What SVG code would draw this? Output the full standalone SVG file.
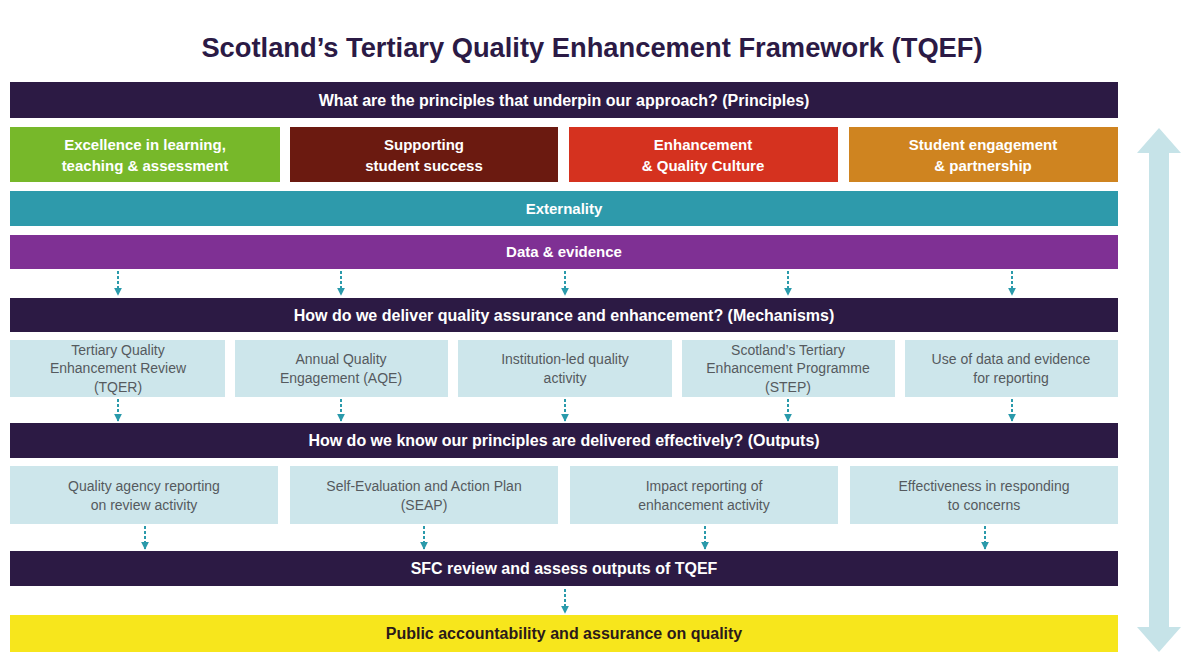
<svg xmlns="http://www.w3.org/2000/svg" width="1190" height="657" viewBox="0 0 1190 657">
  <style>
    .title { font-family: "Liberation Sans", Arial, sans-serif; font-weight: bold; font-size: 27.3px; fill: #2b1a45; }
    .bar { fill: #2c1a44; }
    .hd { font-family: "Liberation Sans", Arial, sans-serif; font-weight: bold; font-size: 16px; fill: #ffffff; text-anchor: middle; }
    .pr { font-family: "Liberation Sans", Arial, sans-serif; font-weight: bold; font-size: 15px; fill: #ffffff; text-anchor: middle; }
    .hdk { font-family: "Liberation Sans", Arial, sans-serif; font-weight: bold; font-size: 16px; fill: #2b1a1a; text-anchor: middle; }
    .box { fill: #cde6eb; }
    .bt { font-family: "Liberation Sans", Arial, sans-serif; font-size: 14px; fill: #555a5e; text-anchor: middle; }
    .con { stroke: #2a9aab; stroke-width: 2; stroke-dasharray: 3 2; fill: none; }
  </style>
  <defs>
    <marker id="ah" viewBox="0 0 10 10" refX="9" refY="5" markerWidth="8" markerHeight="10" markerUnits="userSpaceOnUse" orient="auto">
      <path d="M0,0 L10,5 L0,10 Z" fill="#2a9aab"/>
    </marker>
  </defs>
  <rect width="1190" height="657" fill="#ffffff"/>

  <text class="title" x="592" y="57" text-anchor="middle">Scotland’s Tertiary Quality Enhancement Framework (TQEF)</text>

  <g id="principles-header">
    <rect class="bar" x="10" y="82" width="1108" height="36"/>
    <text class="hd" x="564" y="105.5">What are the principles that underpin our approach? (Principles)</text>
  </g>

  <g id="p-excellence">
    <rect x="10" y="127" width="270" height="55" fill="#77b82a"/>
    <text class="pr" x="145" y="150">Excellence in learning,</text>
    <text class="pr" x="145" y="171">teaching &amp; assessment</text>
  </g>
  <g id="p-supporting">
    <rect x="290" y="127" width="268" height="55" fill="#6b1a10"/>
    <text class="pr" x="424" y="150">Supporting</text>
    <text class="pr" x="424" y="171">student success</text>
  </g>
  <g id="p-enhancement">
    <rect x="569" y="127" width="269" height="55" fill="#d5321f"/>
    <text class="pr" x="703" y="150">Enhancement</text>
    <text class="pr" x="703" y="171">&amp; Quality Culture</text>
  </g>
  <g id="p-engagement">
    <rect x="849" y="127" width="269" height="55" fill="#cf8420"/>
    <text class="pr" x="983" y="150">Student engagement</text>
    <text class="pr" x="983" y="171">&amp; partnership</text>
  </g>

  <g id="externality">
    <rect x="10" y="191" width="1108" height="35" fill="#2e9aab"/>
    <text class="pr" x="564" y="214">Externality</text>
  </g>
  <g id="data-evidence">
    <rect x="10" y="235" width="1108" height="34" fill="#7f3094"/>
    <text class="pr" x="564" y="257">Data &amp; evidence</text>
  </g>

  <g id="mechanisms-header">
    <rect class="bar" x="10" y="298" width="1108" height="34"/>
    <text class="hd" x="564" y="320.5">How do we deliver quality assurance and enhancement? (Mechanisms)</text>
  </g>

  <g id="m-tqer">
    <rect class="box" x="10" y="340" width="215" height="57"/>
    <text class="bt" x="118" y="355">Tertiary Quality</text>
    <text class="bt" x="118" y="373">Enhancement Review</text>
    <text class="bt" x="118" y="392">(TQER)</text>
  </g>
  <g id="m-aqe">
    <rect class="box" x="235" y="340" width="213" height="57"/>
    <text class="bt" x="341" y="364">Annual Quality</text>
    <text class="bt" x="341" y="383">Engagement (AQE)</text>
  </g>
  <g id="m-institution">
    <rect class="box" x="458" y="340" width="214" height="57"/>
    <text class="bt" x="565" y="364">Institution-led quality</text>
    <text class="bt" x="565" y="383">activity</text>
  </g>
  <g id="m-step">
    <rect class="box" x="682" y="340" width="213" height="57"/>
    <text class="bt" x="788" y="355">Scotland’s Tertiary</text>
    <text class="bt" x="788" y="373">Enhancement Programme</text>
    <text class="bt" x="788" y="392">(STEP)</text>
  </g>
  <g id="m-data">
    <rect class="box" x="905" y="340" width="213" height="57"/>
    <text class="bt" x="1011" y="364">Use of data and evidence</text>
    <text class="bt" x="1011" y="383">for reporting</text>
  </g>

  <g id="outputs-header">
    <rect class="bar" x="10" y="423" width="1108" height="35"/>
    <text class="hd" x="564" y="446">How do we know our principles are delivered effectively? (Outputs)</text>
  </g>

  <g id="o-agency">
    <rect class="box" x="10" y="466" width="268" height="58"/>
    <text class="bt" x="144" y="491">Quality agency reporting</text>
    <text class="bt" x="144" y="510">on review activity</text>
  </g>
  <g id="o-seap">
    <rect class="box" x="290" y="466" width="268" height="58"/>
    <text class="bt" x="424" y="491">Self-Evaluation and Action Plan</text>
    <text class="bt" x="424" y="510">(SEAP)</text>
  </g>
  <g id="o-impact">
    <rect class="box" x="570" y="466" width="268" height="58"/>
    <text class="bt" x="704" y="491">Impact reporting of</text>
    <text class="bt" x="704" y="510">enhancement activity</text>
  </g>
  <g id="o-concerns">
    <rect class="box" x="850" y="466" width="268" height="58"/>
    <text class="bt" x="984" y="491">Effectiveness in responding</text>
    <text class="bt" x="984" y="510">to concerns</text>
  </g>

  <g id="sfc-review">
    <rect class="bar" x="10" y="551" width="1108" height="35"/>
    <text class="hd" x="564" y="574">SFC review and assess outputs of TQEF</text>
  </g>

  <g id="public-accountability">
    <rect x="10" y="615" width="1108" height="37" fill="#f7e61c"/>
    <text class="hdk" x="564" y="639">Public accountability and assurance on quality</text>
  </g>

  <g id="cycle-arrow">
    <path d="M1159,128 L1181,153 L1169,153 L1169,627 L1181,627 L1159,652 L1137,627 L1149,627 L1149,153 L1137,153 Z" fill="#c6e3e8"/>
  </g>

  <g id="connectors">
    <line class="con" x1="118" y1="271" x2="118" y2="295" marker-end="url(#ah)"/>
    <line class="con" x1="341" y1="271" x2="341" y2="295" marker-end="url(#ah)"/>
    <line class="con" x1="565" y1="271" x2="565" y2="295" marker-end="url(#ah)"/>
    <line class="con" x1="788" y1="271" x2="788" y2="295" marker-end="url(#ah)"/>
    <line class="con" x1="1012" y1="271" x2="1012" y2="295" marker-end="url(#ah)"/>

    <line class="con" x1="118" y1="399" x2="118" y2="421" marker-end="url(#ah)"/>
    <line class="con" x1="341" y1="399" x2="341" y2="421" marker-end="url(#ah)"/>
    <line class="con" x1="565" y1="399" x2="565" y2="421" marker-end="url(#ah)"/>
    <line class="con" x1="788" y1="399" x2="788" y2="421" marker-end="url(#ah)"/>
    <line class="con" x1="1012" y1="399" x2="1012" y2="421" marker-end="url(#ah)"/>

    <line class="con" x1="145" y1="526" x2="145" y2="549" marker-end="url(#ah)"/>
    <line class="con" x1="424" y1="526" x2="424" y2="549" marker-end="url(#ah)"/>
    <line class="con" x1="705" y1="526" x2="705" y2="549" marker-end="url(#ah)"/>
    <line class="con" x1="985" y1="526" x2="985" y2="549" marker-end="url(#ah)"/>

    <line class="con" x1="565" y1="589" x2="565" y2="613" marker-end="url(#ah)"/>
  </g>
</svg>
